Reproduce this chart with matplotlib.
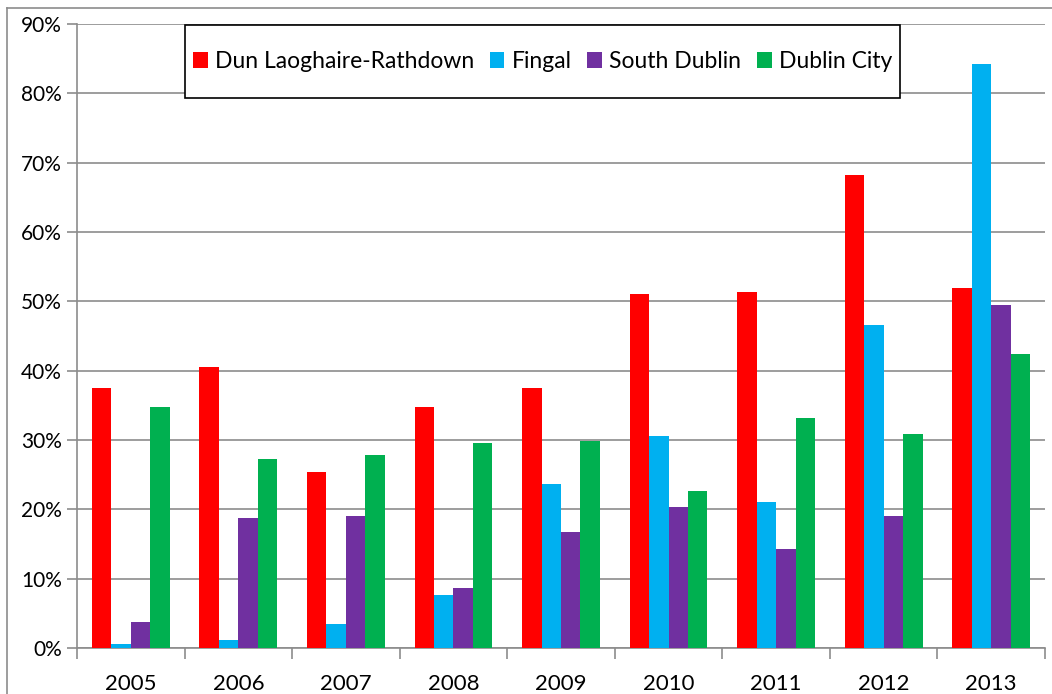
import matplotlib
matplotlib.use("Agg")
import matplotlib.pyplot as plt
from matplotlib.lines import Line2D
from matplotlib.patches import Rectangle
from matplotlib.ticker import PercentFormatter
import numpy as np

years = ["2005", "2006", "2007", "2008", "2009", "2010", "2011", "2012", "2013"]
series_names = ["Dun Laoghaire-Rathdown", "Fingal", "South Dublin", "Dublin City"]
dun_laoghaire = [37.5, 40.6, 25.4, 34.8, 37.5, 51.0, 51.4, 68.2, 51.9]
fingal = [0.6, 1.1, 3.4, 7.6, 23.6, 30.6, 21.0, 46.6, 84.3]
south_dublin = [3.7, 18.7, 19.0, 8.6, 16.7, 20.3, 14.3, 19.0, 49.4]
dublin_city = [34.8, 27.2, 27.9, 29.5, 29.8, 22.7, 33.2, 30.9, 42.4]
colors = ["#ff0000", "#00b0f0", "#7030a0", "#00b050"]
y_ticks = [0, 10, 20, 30, 40, 50, 60, 70, 80, 90]

plt.rcParams["font.family"] = ["Lato", "DejaVu Sans"]

W, H = 1052, 694
fig = plt.figure(figsize=(W / 100, H / 100), dpi=100)
ax_l, ax_r, ax_t, ax_b = 77, 1045, 24, 648
ax = fig.add_axes([ax_l / W, 1 - ax_b / H, (ax_r - ax_l) / W, (ax_b - ax_t) / H])

x = np.arange(len(years))
bar_w = 0.181
data = [dun_laoghaire, fingal, south_dublin, dublin_city]
for i, (vals, name, c) in enumerate(zip(data, series_names, colors)):
    ax.bar(x + (i - 1.5) * bar_w, vals, width=bar_w, color=c, label=name,
           zorder=3, linewidth=0)

ax.set_xlim(-0.5, len(years) - 0.5)
ax.set_ylim(0, 90)
ax.set_yticks(y_ticks)
ax.yaxis.set_major_formatter(PercentFormatter(decimals=0))
ax.grid(axis="y", color="#8c8c8c", linewidth=1.2, zorder=0)

ax.set_xticks(x)
ax.set_xticklabels(years)
ax.set_xticks(np.arange(-0.5, len(years)), minor=True)
ax.tick_params(axis="x", which="major", length=0, pad=19, labelsize=16)
ax.tick_params(axis="x", which="minor", length=8, color="#8c8c8c", width=1.2)
ax.tick_params(axis="y", length=7, color="#8c8c8c", width=1.2, pad=4,
               labelsize=15)

for side in ("top", "right"):
    ax.spines[side].set_visible(False)
for side in ("left", "bottom"):
    ax.spines[side].set_color("#8c8c8c")
    ax.spines[side].set_linewidth(1.2)

# legend box (pixel extents converted to figure fractions)
box_l, box_r, box_t, box_b = 185, 900, 25, 98
fig.add_artist(Rectangle((box_l / W, 1 - box_b / H), (box_r - box_l) / W,
                         (box_b - box_t) / H, transform=fig.transFigure,
                         facecolor="white", edgecolor="black", lw=1.2,
                         zorder=4))
leg = fig.legend(*ax.get_legend_handles_labels(), ncol=4, loc="center",
                 bbox_to_anchor=((box_l + box_r) / 2 / W,
                                 1 - (box_t + box_b) / 2 / H),
                 frameon=False, fontsize=16.5,
                 handlelength=0.64, handleheight=0.64, handletextpad=0.32,
                 columnspacing=0.68, borderpad=0, borderaxespad=0)
leg.set_zorder(5)

# outer chart frame
fig.add_artist(Line2D([7 / W, 1], [1 - 8 / H, 1 - 8 / H],
                      transform=fig.transFigure, color="#8c8c8c", lw=1.2))
fig.add_artist(Line2D([7 / W, 7 / W], [0, 1 - 8 / H],
                      transform=fig.transFigure, color="#8c8c8c", lw=1.2))

fig.savefig("out.png", dpi=100)
